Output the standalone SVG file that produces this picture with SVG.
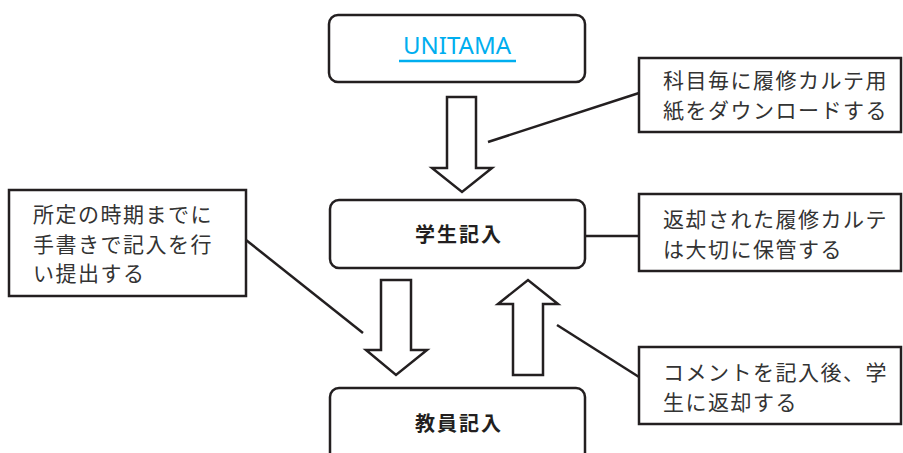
<svg xmlns="http://www.w3.org/2000/svg" width="903" height="453" viewBox="0 0 903 453">
<style>
.node{fill:#fff;stroke:#231f20;stroke-width:2.5}
.note{fill:#fff;stroke:#231f20;stroke-width:2.5}
.arrow{fill:#fff;stroke:#231f20;stroke-width:2.5;stroke-linejoin:miter}
.line{fill:none;stroke:#231f20;stroke-width:2.5}
.t{font-family:"Noto Sans CJK JP","Noto Sans",sans-serif;font-size:21px;fill:#333;letter-spacing:1.5px}
.b{font-family:"Noto Sans CJK JP","Noto Sans",sans-serif;font-size:20px;font-weight:bold;fill:#231f20;letter-spacing:2px}
.u{font-family:"Noto Sans","Liberation Sans",sans-serif;font-size:24px;fill:#00aeef}
</style>
<rect width="903" height="453" fill="#fff"/>
<g id="connectors">
<polygon class="arrow" points="447,97 476,97 476,168 492,168 462,192 432,168 447,168"/>
<polygon class="arrow" points="381,280 411,280 411,350 427,350 396,375 366,350 381,350"/>
<polygon class="arrow" points="513,375 543,375 543,304 558,304 528,280 498,304 513,304"/>
<line class="line" x1="488" y1="142" x2="639" y2="93"/>
<line class="line" x1="585" y1="236" x2="639" y2="236"/>
<line class="line" x1="246" y1="240" x2="363" y2="333"/>
<line class="line" x1="557" y1="325" x2="639" y2="377"/>
</g>
<g id="unitama">
<rect class="node" x="329" y="15" width="256" height="67" rx="9"/>
<text class="u" x="457" y="54" text-anchor="middle">UNITAMA</text>
<line x1="399" y1="61" x2="516" y2="61" stroke="#00aeef" stroke-width="2.5"/>
</g>
<g id="student">
<rect class="node" x="330" y="200" width="255" height="68" rx="9"/>
<text class="b" x="459" y="242" text-anchor="middle">学生記入</text>
</g>
<g id="teacher">
<rect class="node" x="330" y="388" width="255" height="80" rx="9"/>
<text class="b" x="459" y="431" text-anchor="middle">教員記入</text>
</g>
<g id="note-download">
<rect class="note" x="639" y="58" width="262" height="74"/>
<text class="t" x="663" y="88">科目毎に履修カルテ用</text>
<text class="t" x="663" y="118">紙をダウンロードする</text>
</g>
<g id="note-keep">
<rect class="note" x="639" y="194" width="262" height="77"/>
<text class="t" x="663" y="227">返却された履修カルテ</text>
<text class="t" x="663" y="257">は大切に保管する</text>
</g>
<g id="note-submit">
<rect class="note" x="9" y="190" width="237" height="106"/>
<text class="t" x="33" y="222">所定の時期までに</text>
<text class="t" x="33" y="252">手書きで記入を行</text>
<text class="t" x="33" y="281">い提出する</text>
</g>
<g id="note-comment">
<rect class="note" x="639" y="347" width="262" height="77"/>
<text class="t" x="663" y="380">コメントを記入後、学</text>
<text class="t" x="663" y="410">生に返却する</text>
</g>
</svg>
